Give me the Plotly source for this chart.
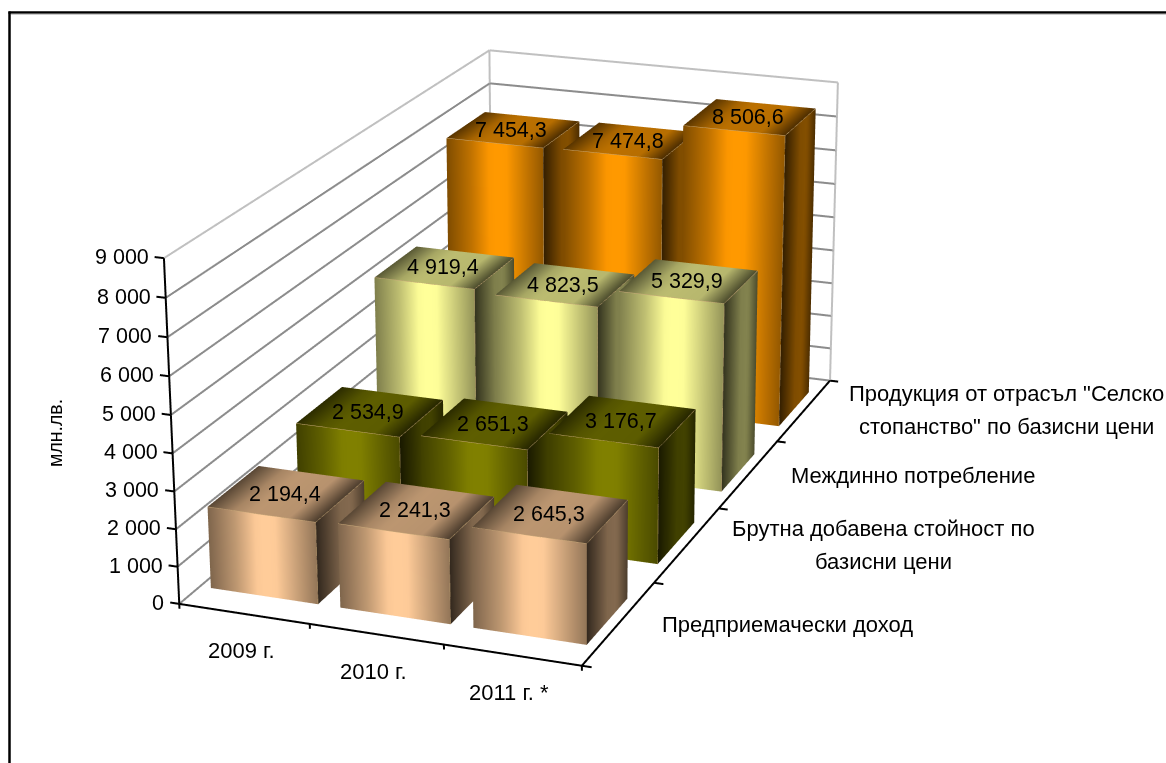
import numpy as np
import plotly.graph_objects as go

years = ["2009 г.", "2010 г.", "2011 г. *"]
series_names = ["Предприемачески доход", "Брутна добавена стойност по<br>базисни цени",
                "Междинно потребление", "Продукция от отрасъл \"Селско<br>стопанство\" по базисни цени"]
entrepreneurial = [2194.4, 2241.3, 2645.3]
gross_added = [2534.9, 2651.3, 3176.7]
intermediate = [4919.4, 4823.5, 5329.9]
output_values = [7454.3, 7474.8, 8506.6]
all_values = [entrepreneurial, gross_added, intermediate, output_values]
colors = [(255, 204, 153), (128, 128, 0), (255, 255, 153), (255, 153, 0)]
z_ticks = list(range(0, 10000, 1000))
label_center_shift = [169, 196, 164, 202]

Z_MAX = 9000
XR = [-0.1, 3.1]; YR = [-0.02, 4.02]; ZR = [-200, 9050]
W, H = 1166, 763
EYE = (2.6995, -7.0307, 2.6032)
CENTER = (0.1324, -0.0054, -0.1145)
UP = (-0.0052, -0.0019, 1.0)
ASPECT = (1, 1.8846, 0.8161)
FOVY = 0.22372

fig = go.Figure()
BAR_X = 0.415
BAR_Y = 0.28
FRONT = [(0, .5), (.25, .75), (.45, 1), (.62, 1), (1, .58)]
SIDE = [(0, .2), (.5, .5), (.72, .52), (1, .3)]
TOP = [(0, .35), (.25, .66), (.4, .74), (.75, .72), (1, .3)]

def gradient(stops, t):
    return np.interp(t, [s[0] for s in stops], [s[1] for s in stops])

def rgb(col, k):
    return "rgb(%d,%d,%d)" % tuple(int(v*k) for v in col)

def seg(lines, **kw):
    xs, ys, zs = [], [], []
    for a, b in lines:
        xs += [a[0], b[0], None]; ys += [a[1], b[1], None]; zs += [a[2], b[2], None]
    fig.add_trace(go.Scatter3d(x=xs, y=ys, z=zs, mode="lines", line=kw, hoverinfo="skip", showlegend=False))

def add_bar(xc, yc, val, col):
    x0, x1, y0, y1 = xc-BAR_X, xc+BAR_X, yc-BAR_Y, yc+BAR_Y
    X, Y, Z, I, J, K, C = [], [], [], [], [], [], []
    def face(a, b, c_, d, stops):
        n = 16
        base = len(X)
        for j in range(n+1):
            t = j/n
            lo = np.array(a)*(1-t)+np.array(d)*t
            hi = np.array(b)*(1-t)+np.array(c_)*t
            for v in (lo, hi):
                X.append(v[0]); Y.append(v[1]); Z.append(v[2]); C.append(rgb(col, gradient(stops, t)))
        for j in range(n):
            m = base+2*j
            I.extend([m, m+1]); J.extend([m+1, m+3]); K.extend([m+2, m+2])
    face((x0, y0, 0), (x0, y0, val), (x1, y0, val), (x1, y0, 0), FRONT)
    face((x1, y0, 0), (x1, y0, val), (x1, y1, val), (x1, y1, 0), SIDE)
    face((x0, y0, val), (x0, y1, val), (x1, y1, val), (x1, y0, val), TOP)
    fig.add_trace(go.Mesh3d(x=X, y=Y, z=Z, i=I, j=J, k=K, vertexcolor=C, hoverinfo="skip", showscale=False,
                            lighting=dict(ambient=1, diffuse=0, specular=0, roughness=1, fresnel=0), flatshading=False))
    return [((x0, y0, val), (x1, y0, val)), ((x1, y0, val), (x1, y0, 0)), ((x1, y0, val), (x1, y1, val))]

annotations = []
DATA_FONT = dict(family="Liberation Sans", size=21.5, color="black")
FONT = dict(family="Liberation Sans", size=22, color="black")
edges = []
for si, vals in enumerate(all_values):
    for xi, v in enumerate(vals):
        edges += add_bar(xi+.5, si+.5, v, colors[si])
        annotations.append(dict(x=xi+.5, y=si+.5, z=v, text=f"{int(v)//1000} {int(v)%1000:03d},{int(round(v*10))%10}",
                                showarrow=False, font=DATA_FONT, xshift=-2))
for z in z_ticks:
    annotations.append(dict(x=0, y=0, z=z, text=f"{z//1000} 000" if z else "0", showarrow=False, font=dict(FONT, size=21.5),
                            xanchor="right", xshift=-13, yshift=1))
for i, y in enumerate(years):
    annotations.append(dict(x=i+.5, y=0, z=0, text=y, showarrow=False, font=FONT, xshift=-3, yshift=-37))
for i, s in enumerate(series_names):
    lines = s.split("<br>")
    for j, line in enumerate(lines):
        annotations.append(dict(x=3, y=i+.5, z=0, text=line, showarrow=False, font=FONT, xshift=label_center_shift[i],
                                yshift=-1 if len(lines) == 1 else 16.5-33*j))

seg(edges, color="#c8a878", width=1)
grid = []
for z in z_ticks[:-1]:
    grid += [((0, 0, z), (0, 4, z)), ((0, 4, z), (3, 4, z))]
seg(grid, color="#8c8c8c", width=4)
box = [((0, 0, Z_MAX), (0, 4, Z_MAX)), ((0, 4, Z_MAX), (3, 4, Z_MAX)), ((3, 4, Z_MAX), (3, 4, 0)), ((0, 4, 0), (0, 4, Z_MAX))]
seg(box, color="#c0c0c0", width=4)
blk = [((0, 0, 0), (0, 0, Z_MAX)), ((0, 0, 0), (3, 0, 0)), ((3, 0, 0), (3, 4, 0))]
blk += [((0, 0, z), (-0.07, 0, z)) for z in z_ticks]
blk += [((i, 0, 0), (i, 0, -130)) for i in range(4)]
blk += [((3, i, 0), (3.07, i, 0)) for i in range(5)]
seg(blk, color="black", width=4)

ax_common = dict(showbackground=False, showline=False, zeroline=False, showticklabels=False, ticks="", title="",
                 showspikes=False, showgrid=False)
def xyz(t):
    return dict(x=t[0], y=t[1], z=t[2])
fig.update_layout(
    width=W, height=H, margin=dict(l=0, r=0, t=0, b=0), paper_bgcolor="white", showlegend=False,
    scene=dict(domain=dict(x=[0, 1], y=[0, 1]),
               camera=dict(eye=xyz(EYE), center=xyz(CENTER), up=xyz(UP), projection=dict(type="perspective")),
               aspectmode="manual", aspectratio=xyz(ASPECT),
               xaxis=dict(range=XR, **ax_common), yaxis=dict(range=YR, **ax_common), zaxis=dict(range=ZR, **ax_common),
               annotations=annotations),
    annotations=[dict(x=55/W, y=1-433/H, xref="paper", yref="paper", text="млн.лв.", textangle=-90, showarrow=False,
                      xanchor="center", yanchor="middle", font=dict(family="Liberation Sans", size=19.5, color="black"))],
    shapes=[dict(type="line", xref="paper", yref="paper", x0=9.5/W, x1=9.5/W, y0=0, y1=1-11.5/H, line=dict(color="black", width=2.5)),
            dict(type="line", xref="paper", yref="paper", x0=8.5/W, x1=1, y0=1-12.5/H, y1=1-12.5/H, line=dict(color="black", width=2.5)),
            dict(type="line", xref="paper", yref="paper", x0=11/W, x1=1, y0=1-14.3/H, y1=1-14.3/H, line=dict(color="#c0c0c0", width=1))])
POST = """
document.body.style.margin='0';
(function(){var gd=document.getElementById('{plot_id}');var n=0;
var t=setInterval(function(){n++;try{var g=gd._fullLayout.scene._scene.glplot;g.fovy=%f;g.redraw();if(n>20)clearInterval(t);}catch(e){if(n>200)clearInterval(t);}},50);})();
""" % FOVY
fig.write_html("out.html", post_script=POST, config=dict(displayModeBar=False))
